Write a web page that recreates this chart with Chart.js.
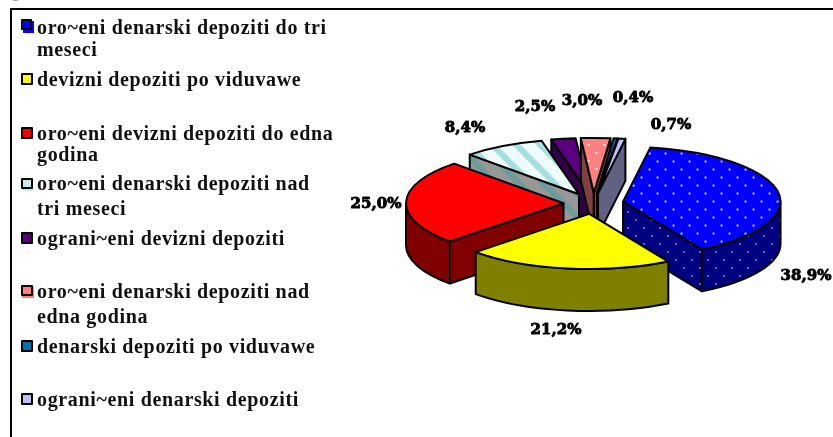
<!DOCTYPE html>
<html><head><meta charset="utf-8">
<style>html,body{margin:0;padding:0;background:#fff}canvas{display:block}</style>
<script src="https://cdn.jsdelivr.net/npm/chart.js@4"></script>
</head><body><canvas id="c" width="833" height="437"></canvas>
<script>
const categories = [
  ["oro~eni denarski depoziti do tri","meseci"],
  ["devizni depoziti po viduvawe"],
  ["oro~eni devizni depoziti do edna","godina"],
  ["oro~eni denarski depoziti nad","tri meseci"],
  ["ograni~eni devizni depoziti"],
  ["oro~eni denarski depoziti nad","edna godina"],
  ["denarski depoziti po viduvawe"],
  ["ograni~eni denarski depoziti"]
];
const shares = [38.9, 21.2, 25.0, 8.4, 2.5, 3.0, 0.4, 0.7];
const shareText = ["38,9%","21,2%","25,0%","8,4%","2,5%","3,0%","0,4%","0,7%"];
const topColors = ["#0000ff","#ffff00","#ff0000","#c8ecec","#5a007f","#ff8080","#0070b0","#c0c0ff"];
const sideColors = ["#000080","#808000","#800000","#989898","#300048","#804040","#003858","#606080"];

const SQUASH = 0.35, DEPTH = 42, EXPLODE = 30, CY = 203.5;
const drawOrder = [4,5,6,7,3,0,2,1];
const labelPos = [[806,275],[556,329],[376,203],[465,127],[535,106],[582,100],[633,97],[671,124]];
const legendBase = [[34,56],[86],[140,161],[190,215],[245],[298,323],[353],[406]];
const defaultSwatch = [22,-12,10,10,22,-12,10,10];
const swatches = [[23,-13,11,12,22,-14,9,9],defaultSwatch,defaultSwatch,[23,-10,10,11,22,-11,10,9],defaultSwatch,[22,-11,12,11,22,-12,10,9],defaultSwatch,defaultSwatch];

function tile(w,h,paint){const t=document.createElement('canvas');t.width=w;t.height=h;paint(t.getContext('2d'));return t;}
function dots(bg,fg,w,h){return tile(w,h,g=>{g.fillStyle=bg;g.fillRect(0,0,w,h);g.fillStyle=fg;
  [[w/4,h/4],[3*w/4,3*h/4]].forEach(p=>{g.beginPath();g.arc(p[0],p[1],1.1,0,7);g.fill();});});}
function stripes(bg,fg){return tile(24,24,g=>{g.fillStyle=bg;g.fillRect(0,0,24,24);g.strokeStyle=fg;g.lineWidth=6;
  for(let i=-24;i<=24;i+=24){g.beginPath();g.moveTo(i-4,-4);g.lineTo(i+28,28);g.stroke();}});}
const probe=document.createElement('canvas').getContext('2d');
function pat(t,squashed){const p=probe.createPattern(t,'repeat');if(squashed)p.setTransform(new DOMMatrix().scale(1,1/SQUASH));return p;}
const topFill=[pat(dots(topColors[0],"#ffffff",16,16),true),topColors[1],topColors[2],pat(stripes("#eefcfc","#a4dede"),true),topColors[4],pat(dots(topColors[5],"#ffffff",16,16),true),topColors[6],topColors[7]];
const sideFill=[pat(dots(sideColors[0],"#7f7f9f",16,16)),sideColors[1],sideColors[2],pat(stripes(sideColors[3],"#6a9c9c")),sideColors[4],sideColors[5],sideColors[6],sideColors[7]];

const pie3d={id:'pie3d',
 beforeDraw(chart){const c=chart.ctx;c.save();c.fillStyle='#fff';c.fillRect(0,0,833,437);
   c.fillStyle='#000';c.fillRect(11,8,822,2);c.fillRect(10,8,2,429);
   c.fillStyle='#aaa';c.fillRect(13,0,5,1);c.restore();},
 beforeDatasetDraw(chart){
   const c=chart.ctx, arcs=chart.getDatasetMeta(0).data;
   c.lineJoin='round';c.strokeStyle='#000';c.lineWidth=2;
   drawOrder.forEach(i=>{
     const a=arcs[i],s=a.startAngle,e=a.endAngle,r=a.outerRadius,m=(s+e)/2;
     const cx=a.x+Math.cos(m)*EXPLODE, cy=CY+Math.sin(m)*EXPLODE*SQUASH;
     const px=t=>cx+r*Math.cos(t), py=t=>cy+r*SQUASH*Math.sin(t);
     c.fillStyle=sideFill[i];
     const quad=t=>{c.beginPath();c.moveTo(cx,cy);c.lineTo(px(t),py(t));c.lineTo(px(t),py(t)+DEPTH);c.lineTo(cx,cy+DEPTH);c.closePath();c.fill();c.stroke();};
     if(Math.cos(s)<0)quad(s);
     if(Math.cos(e)>0)quad(e);
     for(const k of [-2,0,2]){
       const lo=Math.max(s,k*Math.PI),hi=Math.min(e,(k+1)*Math.PI);
       if(hi>lo){c.beginPath();c.ellipse(cx,cy,r,r*SQUASH,0,lo,hi);c.lineTo(px(hi),py(hi)+DEPTH);
         c.ellipse(cx,cy+DEPTH,r,r*SQUASH,0,hi,lo,true);c.closePath();c.fill();c.stroke();}
     }
     c.save();c.translate(0,CY);c.scale(1,SQUASH);c.translate(Math.cos(m)*EXPLODE,Math.sin(m)*EXPLODE-a.y);a.draw(c);c.restore();
     c.beginPath();c.moveTo(cx,cy);c.ellipse(cx,cy,r,r*SQUASH,0,s,e);c.closePath();c.stroke();
   });
   return false;
 },
 afterDraw(chart){
   const c=chart.ctx;c.save();c.textBaseline='alphabetic';c.fillStyle='#000';c.textAlign='center';
   c.font='bold 15px "DejaVu Serif"';c.strokeStyle='#000';c.lineWidth=0.9;c.lineJoin='round';
   shareText.forEach((t,i)=>{c.fillText(t,labelPos[i][0],labelPos[i][1]+5);c.strokeText(t,labelPos[i][0],labelPos[i][1]+5);});
   c.textAlign='left';
   categories.forEach((lines,i)=>{
     const b=legendBase[i][0],d=swatches[i];
     c.fillStyle=topColors[i];
     c.fillRect(d[0],b+d[1],d[2],d[3]);
     c.strokeStyle='#000';c.lineWidth=2;c.strokeRect(d[4],b+d[5],d[6],d[7]);
     c.fillStyle='#111';c.font='bold 20px "Liberation Serif"';c.letterSpacing='0.65px';
     lines.forEach((l,j)=>c.fillText(l,37,legendBase[i][j]));
     c.letterSpacing='0px';
   });
   c.restore();
 }};
new Chart(document.getElementById('c'),{
 type:'pie',
 data:{labels:categories,datasets:[{data:shares,backgroundColor:topFill,borderWidth:0}]},
 options:{responsive:false,animation:false,events:[],rotation:10,
  layout:{padding:{left:436,right:82,top:60,bottom:62}},
  plugins:{legend:{display:false},tooltip:{enabled:false}}},
 plugins:[pie3d]
});
</script></body></html>
